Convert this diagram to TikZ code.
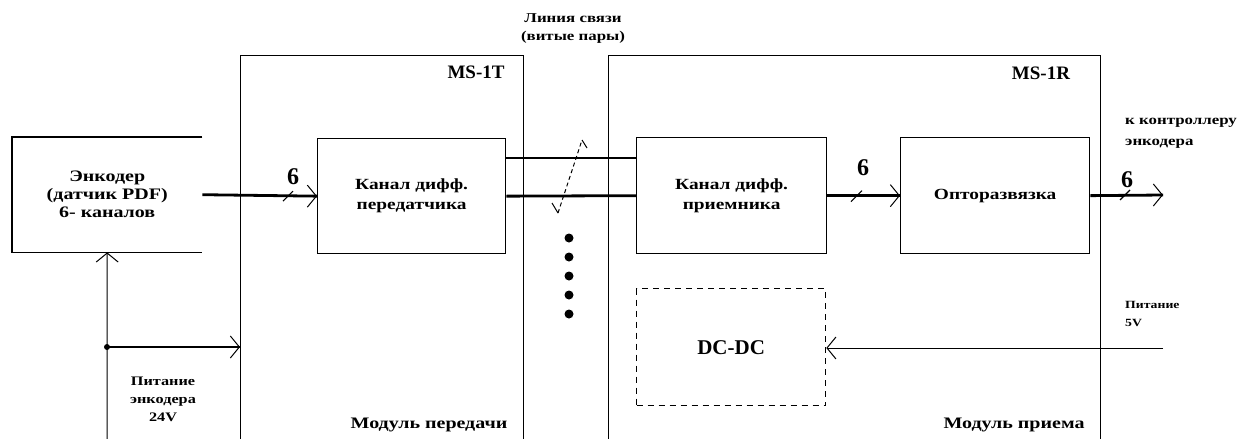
\documentclass[tikz,border=0pt]{standalone}
\usepackage{fontspec}
\setmainfont{Liberation Serif}
\newfontfamily\cyr[FakeStretch=1.25]{Liberation Serif}
\usetikzlibrary{arrows.meta,calc}
\tikzset{
  frame/.style={draw, line width=1.3pt, inner sep=0pt, anchor=north west},
  blk/.style={frame, align=center, font=\cyr\bfseries\fontsize{15.5}{20}\selectfont},
  wthin/.style={line width=1.1pt},
  wthick/.style={line width=2.8pt},
  barb/.style={line width=1pt, -{Straight Barb[length=9pt,width=22pt]}},
  lbl/.style={font=\cyr\bfseries\fontsize{13.5}{18}\selectfont, align=center, inner sep=0pt},
  num/.style={font=\bfseries\fontsize{24}{24}\selectfont, inner sep=0pt},
  lat/.style={font=\bfseries\fontsize{19}{19}\selectfont, inner sep=0pt}
}
\begin{document}
\begin{tikzpicture}[x=1pt,y=-1pt]
\useasboundingbox (0,0) rectangle (1251,439);
\clip (0,0) rectangle (1251,439);
\fill[white] (0,0) rectangle (1251,439);
% module frames
\node[frame, minimum width=283pt, minimum height=420pt] (mst) at (240,55) {};
\node[frame, minimum width=492pt, minimum height=420pt] (msr) at (608,55) {};
% blocks
\node[blk, minimum width=188pt, minimum height=115pt] (tx) at (317,138) {Канал дифф.\\передатчика};
\node[blk, minimum width=190pt, minimum height=116pt] (rx) at (636,137) {Канал дифф.\\приемника};
\node[blk, minimum width=189pt, minimum height=116pt] (opto) at (900,137) {Оптоpазвязка};
\node[frame, dash pattern=on 6pt off 5pt, minimum width=189pt, minimum height=117pt,
      font=\bfseries\fontsize{21}{21}\selectfont] (dcdc) at (636,288) {DC-DC};
\node[anchor=north west, minimum width=190pt, minimum height=115pt, inner sep=0pt, align=center,
      font=\cyr\bfseries\fontsize{16}{18}\selectfont] (enc) at (12,137) {Энкодер\\(датчик PDF)\\6- каналов};
\draw[line width=1.3pt] (enc.north east) -- (enc.north west) -- (enc.south west) -- (enc.south east);
% labels
\node[lat] (lt) at (476,72) {MS-1T};
\node[lat] (lr) at (1041,73) {MS-1R};
\node[lbl] (link) at (573,29) {Линия связи\\(витые пары)};
\node[lbl, align=left, anchor=west, font=\cyr\bfseries\fontsize{13.5}{21}\selectfont] (ctrl) at (1125,133) {к контроллеру\\энкодера};
\node[lbl, align=left, anchor=west, font=\cyr\bfseries\fontsize{11}{18}\selectfont] (p5t) at (1125,314) {Питание\\5V};
\node[lbl, font=\cyr\bfseries\fontsize{13}{18}\selectfont] (p24) at (163,399) {Питание\\энкодера\\24V};
\node[lbl, font=\cyr\bfseries\fontsize{16}{16}\selectfont] (mt) at (429,425) {Модуль передачи};
\node[lbl, font=\cyr\bfseries\fontsize{16}{16}\selectfont] (mr) at (1014,425) {Модуль приема};
% encoder -> tx
\draw[wthick] (enc.east) -- (tx.west);
\draw[barb] ($(tx.west)+(-10,0)$) -- (tx.west);
\draw[wthin] ($(tx.west)+(-34,5)$) -- ++(10,-10);
\node[num] (n1) at ($(tx.west)+(-24,-19)$) {6};
% twisted pair
\draw[wthin] (tx.east |- 0,158) -- (rx.west |- 0,158);
\draw[wthick] (tx.east) -- (rx.west);
\draw[line width=1pt, dash pattern=on 4pt off 3pt] (558,213) -- (582,140);
\draw[line width=1pt] (552,203) -- (558,213);
\draw[line width=1pt] (582,140) -- (587,148);
\foreach \yy in {238,257,276,295,314} \fill (569,\yy) circle (4.5pt);
% rx -> opto
\draw[wthick] (rx.east) -- (opto.west);
\draw[barb] ($(opto.west)+(-10,0)$) -- (opto.west);
\draw[wthin] ($(opto.west)+(-49,6)$) -- ++(11,-11);
\node[num] (n2) at ($(opto.west)+(-37,-28)$) {6};
% output
\coordinate (outend) at (1163,195);
\draw[wthick] (opto.east) -- (outend);
\draw[barb] ($(outend)+(-10,0)$) -- (outend);
\draw[wthin] ($(outend)+(-43,5)$) -- ++(10,-10);
\node[num] (n3) at ($(outend)+(-36,-15)$) {6};
% power 24V
\coordinate (pbot) at (107,445);
\coordinate (pj) at (107,347);
\draw[barb] (pbot) -- (enc.south);
\draw[wthick] (pj) -- (pj -| mst.west);
\draw[barb] ($(pj -| mst.west)+(-10,0)$) -- (pj -| mst.west);
\fill (pj) circle (3pt);
% power 5V
\coordinate (p5) at (1163,348);
\draw[barb] (p5) -- (p5 -| dcdc.east);
\end{tikzpicture}
\end{document}
